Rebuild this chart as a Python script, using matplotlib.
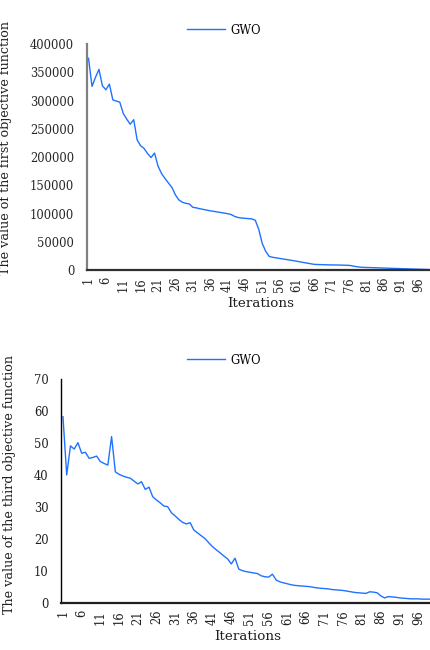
import matplotlib
matplotlib.use("Agg")
import matplotlib.pyplot as plt

plt.rcParams['font.family'] = ['DejaVu Serif']

iterations = list(range(1, 101))

# first objective (GWO)
obj1 = [374700, 325000, 341000, 355000, 326000, 319000, 329000, 301000, 299000, 297000,
        277000, 267000, 258000, 266000, 230000, 220000, 215000, 206000, 199000, 207000,
        184000, 171000, 162000, 154000, 146000, 133000, 124000, 120000, 118000, 117000,
        111000, 110000, 108500, 107300, 106000, 104800, 103800, 102800, 101800, 100800,
        99700, 98300, 95000, 93000, 92000, 91500, 91000, 90500, 88000, 72000,
        47000, 33000, 24000, 22500, 21500, 20500, 19500, 18500, 17500, 16500,
        15400, 14300, 13200, 12100, 11000, 10000, 9700, 9500, 9300, 9100,
        9000, 8900, 8800, 8600, 8400, 8200, 7200, 6000, 5200, 4700,
        4500, 4300, 4100, 3900, 3700, 3500, 3200, 3000, 2800, 2600,
        2400, 2200, 2000, 1800, 1600, 1400, 1200, 1000, 800, 600]

# third objective (GWO)
obj3 = [58.2, 40.0, 49.1, 48.1, 50.1, 46.8, 47.1, 45.2, 45.5, 45.9,
        44.2, 43.6, 43.1, 52.0, 41.0, 40.2, 39.7, 39.3, 39.0, 38.1,
        37.2, 37.9, 35.5, 36.2, 33.2, 32.2, 31.3, 30.3, 30.1, 28.2,
        27.2, 26.1, 25.2, 24.7, 25.1, 22.8, 21.9, 21.0, 20.1, 18.8,
        17.6, 16.6, 15.7, 14.7, 13.8, 12.2, 14.0, 10.6, 10.1, 9.8,
        9.6, 9.4, 9.2, 8.5, 8.2, 8.1, 9.0, 7.2, 6.6, 6.3,
        6.0, 5.7, 5.5, 5.4, 5.3, 5.2, 5.1, 4.9, 4.7, 4.6,
        4.5, 4.4, 4.2, 4.1, 4.0, 3.9, 3.7, 3.5, 3.3, 3.2,
        3.1, 3.0, 3.5, 3.4, 3.2, 2.2, 1.6, 2.0, 1.9, 1.8,
        1.6, 1.5, 1.4, 1.3, 1.3, 1.3, 1.2, 1.2, 1.2, 1.2]

xticks = list(range(1, 100, 5))
yticks1 = [0, 50000, 100000, 150000, 200000, 250000, 300000, 350000, 400000]
yticks3 = [0, 10, 20, 30, 40, 50, 60, 70]

W, H = 431, 650
fig = plt.figure(figsize=(W / 100, H / 100), dpi=100)
line_color = '#1f72ff'


def px_axes(left, top, width, height):
    return fig.add_axes([left / W, 1 - (top + height) / H, width / W, height / H])


def style(ax, spine_left, spine_bottom, lw_left, lw_bottom, tick_color, ypad, xpad):
    for s in ['top', 'right']:
        ax.spines[s].set_visible(False)
    ax.spines['left'].set_color(spine_left)
    ax.spines['left'].set_linewidth(lw_left)
    ax.spines['bottom'].set_color(spine_bottom)
    ax.spines['bottom'].set_linewidth(lw_bottom)
    ax.set_xlim(0.5, 100.5)
    ax.set_xticks(xticks)
    ax.set_xticklabels([str(t) for t in xticks], rotation=90)
    ax.tick_params(axis='y', length=0, pad=ypad, labelsize=8.3, labelcolor=tick_color)
    ax.tick_params(axis='x', length=0, pad=xpad, labelsize=8.3, labelcolor=tick_color)


# ---- top chart
ax1 = px_axes(86.8, 44, 347.4, 226)
ax1.plot(iterations, obj1, color=line_color, lw=1.0, label='GWO')
ax1.set_ylim(0, 400000)
ax1.set_yticks(yticks1)
style(ax1, '#808080', '#303030', 1.6, 1.6, '#262626', 9, 5)
ax1.set_xlabel('Iterations', fontsize=9.7, labelpad=4, color='#202020')
ax1.set_ylabel('The value of the first objective function', fontsize=9.2, color='#202020')
ax1.yaxis.set_label_coords(12 / W, 1 - 148 / H, transform=fig.transFigure)
ax1.legend(loc='center', bbox_to_anchor=(224 / W, 1 - 30 / H), bbox_transform=fig.transFigure,
           frameon=False, fontsize=8.3, handlelength=3.3, handletextpad=0.5)

# ---- bottom chart
ax3 = px_axes(61.1, 379, 374, 224)
ax3.plot(iterations, obj3, color=line_color, lw=1.0, label='GWO')
ax3.set_ylim(0, 70)
ax3.set_yticks(yticks3)
style(ax3, 'black', '#202020', 1.0, 1.6, '#202020', 9, 5)
ax3.set_xlabel('Iterations', fontsize=9.7, labelpad=4, color='#202020')
ax3.set_ylabel('The value of the third objective function', fontsize=9.2, color='#202020')
ax3.yaxis.set_label_coords(16 / W, 1 - 484 / H, transform=fig.transFigure)
ax3.legend(loc='center', bbox_to_anchor=(224 / W, 1 - 360 / H), bbox_transform=fig.transFigure,
           frameon=False, fontsize=8.3, handlelength=3.3, handletextpad=0.5)

fig.savefig('out.png', dpi=100)
